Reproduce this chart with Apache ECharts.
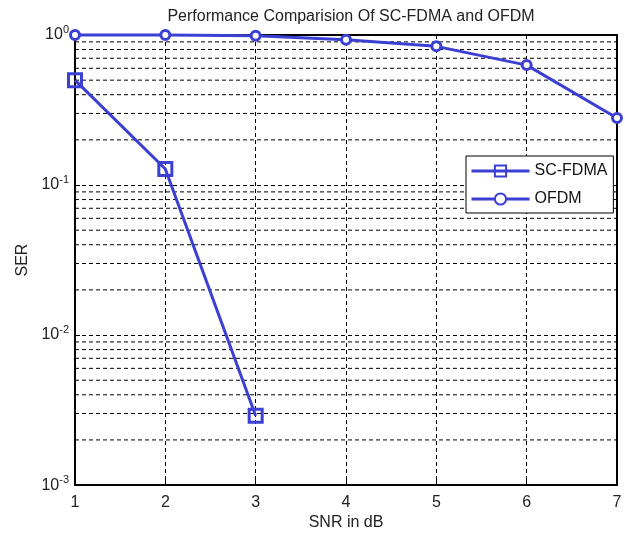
<!DOCTYPE html>
<html>
<head>
<meta charset="utf-8">
<script src="https://cdn.jsdelivr.net/npm/echarts@6/dist/echarts.min.js"></script>
<style>html,body{margin:0;padding:0;background:#fff;}#c{width:625px;height:536px;}</style>
</head>
<body>
<div id="c"></div>
<script>
const snr = [1, 2, 3, 4, 5, 6, 7];
const scfdmaSer = [0.5, 0.128, 0.0029];
const ofdmSer = [1.0, 1.0, 0.99, 0.93, 0.84, 0.63, 0.28];
const minorMultipliers = [2, 3, 4, 5, 6, 7, 8, 9];
const minorDecades = [0.001, 0.01, 0.1];
const xRange = [1, 7];
const titleText = 'Performance Comparision Of SC-FDMA and OFDM';

const blue = '#3b3fd2';
const font = 'Liberation Sans, Arial, sans-serif';
const dash = [4, 3];

const minorValues = [];
minorDecades.forEach(d => minorMultipliers.forEach(m => minorValues.push(+(d * m).toPrecision(3))));

const gridSeries = minorValues.map(v => ({
  name: 'grid' + v, type: 'line', silent: true, z: 1,
  data: [[xRange[0], v], [xRange[1], v]],
  symbol: 'none', animation: false,
  lineStyle: { color: '#000', type: dash, width: 1 },
  emphasis: { disabled: true }, tooltip: { show: false }
}));

const chart = echarts.init(document.getElementById('c'));
chart.setOption({
  animation: false,
  backgroundColor: '#fff',
  title: {
    text: titleText, left: 346, top: 4, textAlign: 'center',
    textStyle: { fontSize: 16, fontWeight: 'normal', color: '#222', fontFamily: font }
  },
  grid: { left: 75, right: 8, top: 35, bottom: 47, show: true, borderColor: '#000', borderWidth: 2, backgroundColor: 'transparent' },
  legend: {
    orient: 'vertical', left: 466, top: 156,
    backgroundColor: '#fff', borderColor: '#000', borderWidth: 1,
    padding: [7, 6, 6, 4], itemGap: 12, itemWidth: 58, itemHeight: 14,
    lineStyle: { width: 3 },
    textStyle: { fontSize: 16, color: '#111', fontFamily: font },
    data: ['SC-FDMA', 'OFDM']
  },
  xAxis: {
    type: 'value', min: xRange[0], max: xRange[1], interval: 1,
    name: 'SNR in dB', nameLocation: 'middle', nameGap: 27,
    nameTextStyle: { fontSize: 16, color: '#222', fontFamily: font },
    axisLine: { lineStyle: { color: '#000', width: 2 } },
    axisTick: { inside: true, length: 5, lineStyle: { color: '#000' } },
    axisLabel: { fontSize: 16, color: '#222', fontFamily: font, margin: 9 },
    splitLine: { show: true, lineStyle: { color: '#000', type: dash, width: 1 } }
  },
  yAxis: {
    type: 'log', logBase: 10, min: 0.001, max: 1, interval: 1,
    name: 'SER', nameLocation: 'middle', nameGap: 44,
    nameTextStyle: { fontSize: 16, color: '#222', fontFamily: font },
    axisLine: { lineStyle: { color: '#000', width: 2 } },
    axisTick: { inside: true, length: 5, lineStyle: { color: '#000' } },
    axisLabel: {
      margin: 6,
      formatter: v => '{b|10}{s|' + Math.round(Math.log10(v)) + '}',
      rich: {
        b: { fontSize: 16, color: '#222', fontFamily: font },
        s: { fontSize: 11, color: '#222', fontFamily: font, verticalAlign: 'top', padding: [0, 0, 10, 0] }
      }
    },
    splitLine: { show: true, lineStyle: { color: '#000', type: dash, width: 1 } }
  },
  series: gridSeries.concat([
    {
      name: 'SC-FDMA', type: 'line', clip: false, z: 5,
      data: scfdmaSer.map((v, i) => [snr[i], v]),
      symbol: 'rect', symbolSize: 13,
      lineStyle: { color: blue, width: 3 },
      itemStyle: { color: 'rgba(255,255,255,0)', borderColor: blue, borderWidth: 3 }
    },
    {
      name: 'OFDM', type: 'line', clip: false, z: 5,
      data: ofdmSer.map((v, i) => [snr[i], v]),
      symbol: 'circle', symbolSize: 9,
      lineStyle: { color: blue, width: 3 },
      itemStyle: { color: '#fff', borderColor: blue, borderWidth: 3 }
    }
  ])
});
</script>
</body>
</html>
